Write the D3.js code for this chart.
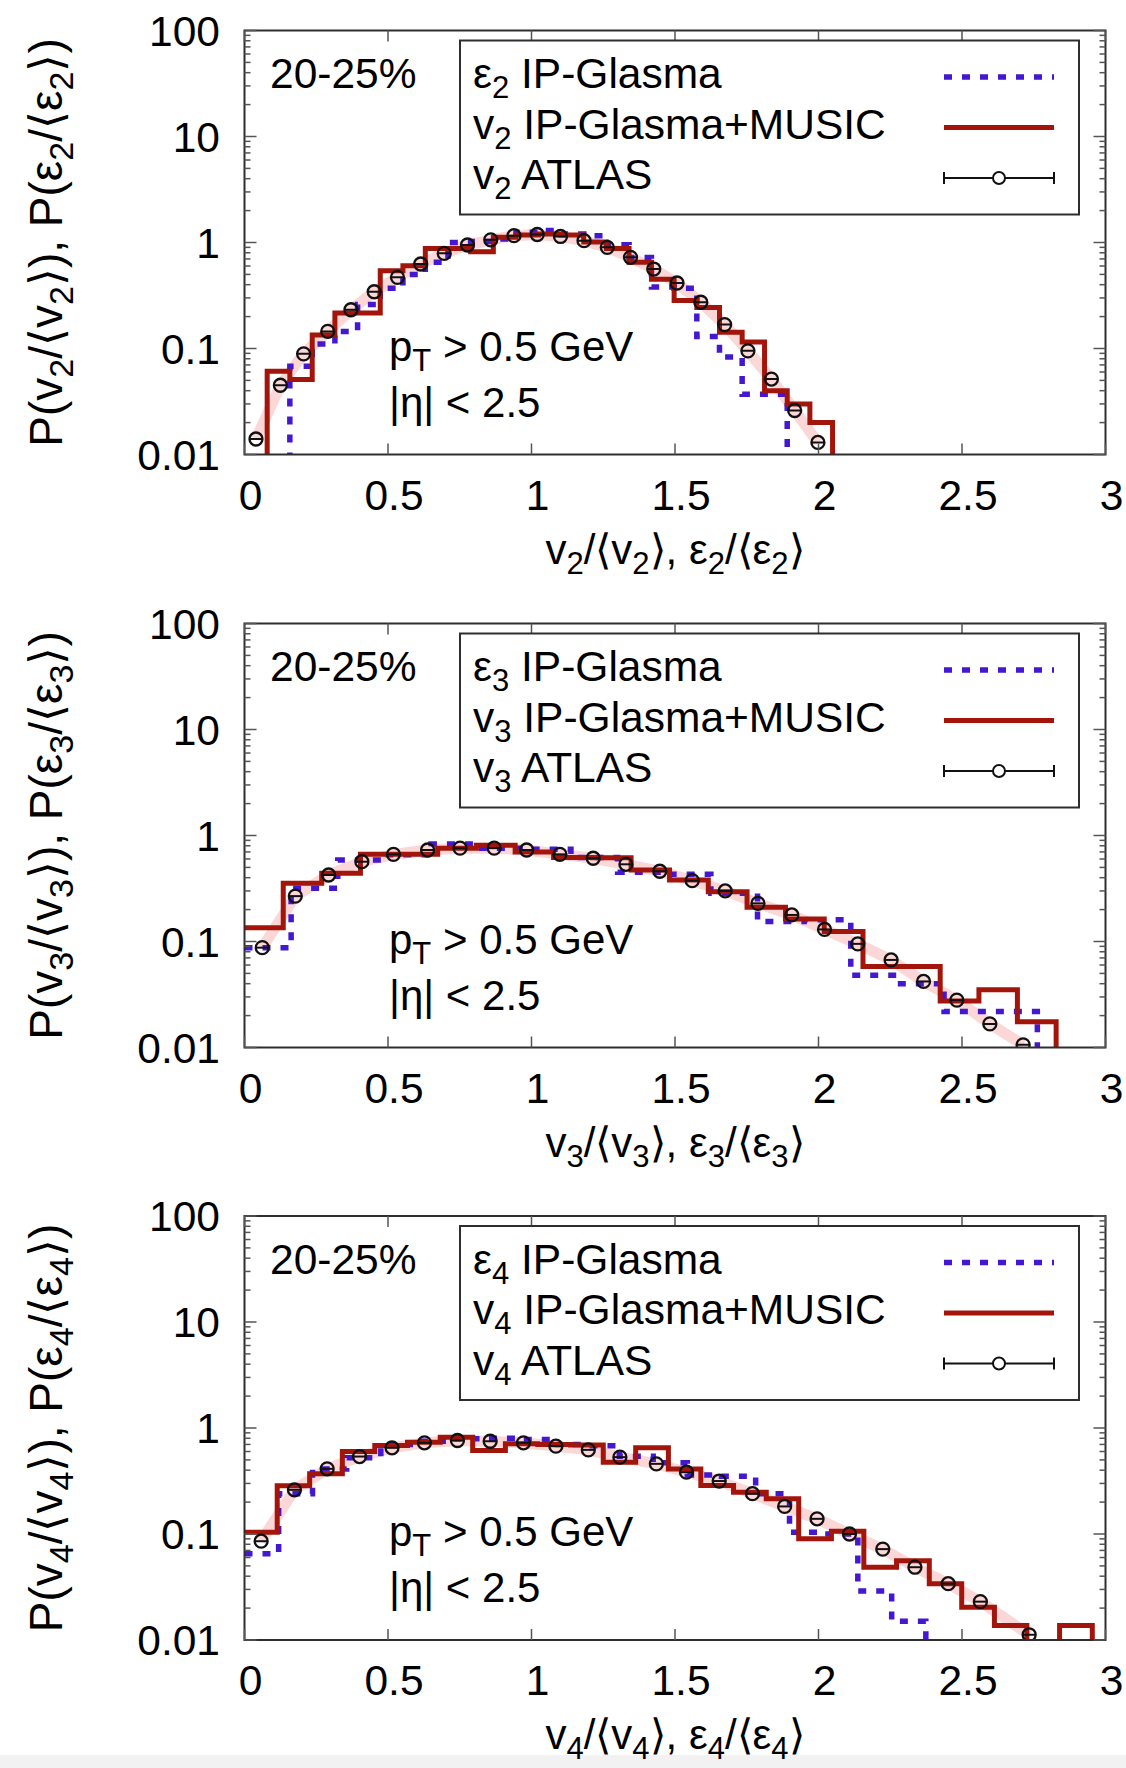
<!DOCTYPE html>
<html>
<head>
<meta charset="utf-8">
<script src="https://cdn.jsdelivr.net/npm/d3@7"></script>
<style>
  html, body { margin: 0; padding: 0; background: #fff; }
  svg { display: block; font-family: "Liberation Sans", Arial, Helvetica, sans-serif; }
</style>
</head>
<body>
<div id="chart"></div>
<script>
const xTicks = [0, 0.5, 1, 1.5, 2, 2.5, 3];
const xTickLabels = ["0", "0.5", "1", "1.5", "2", "2.5", "3"];
const yTicks = [0.01, 0.1, 1, 10, 100];
const yTickLabels = ["0.01", "0.1", "1", "10", "100"];
const harmonics = [2, 3, 4];
const centrality = "20-25%";

// n = 2
const atlasX2 = [0.04, 0.125, 0.206, 0.29, 0.371, 0.452, 0.533, 0.614, 0.696, 0.777, 0.858, 0.939, 1.02, 1.101, 1.183, 1.264, 1.345, 1.426, 1.507, 1.59, 1.673, 1.754, 1.836, 1.917, 1.998];
const atlasY2 = [0.014, 0.045, 0.089, 0.145, 0.232, 0.343, 0.469, 0.627, 0.79, 0.947, 1.06, 1.16, 1.19, 1.14, 1.04, 0.90, 0.725, 0.562, 0.415, 0.273, 0.168, 0.095, 0.0515, 0.026, 0.013];
const musicEdges2 = [0.079, 0.158, 0.236, 0.315, 0.394, 0.473, 0.552, 0.630, 0.709, 0.788, 0.867, 0.946, 1.024, 1.103, 1.182, 1.261, 1.340, 1.418, 1.497, 1.576, 1.655, 1.734, 1.812, 1.891, 1.970, 2.049];
const musicVals2 = [0.061, 0.051, 0.134, 0.216, 0.216, 0.54, 0.605, 0.88, 0.88, 0.82, 1.12, 1.18, 1.20, 1.18, 1.01, 0.88, 0.65, 0.45, 0.283, 0.244, 0.142, 0.115, 0.040, 0.030, 0.020];
const glasmaEdges2 = [0.158, 0.236, 0.315, 0.394, 0.473, 0.552, 0.630, 0.709, 0.788, 0.867, 0.946, 1.024, 1.103, 1.182, 1.261, 1.340, 1.418, 1.497, 1.576, 1.655, 1.734, 1.812, 1.891];
const glasmaVals2 = [0.068, 0.11, 0.145, 0.26, 0.37, 0.50, 0.65, 1.0, 1.02, 1.08, 1.25, 1.3, 1.2, 1.16, 0.95, 0.72, 0.38, 0.37, 0.13, 0.083, 0.037, 0.037];

// n = 3
const atlasX3 = [0.062, 0.177, 0.293, 0.409, 0.519, 0.638, 0.751, 0.87, 0.983, 1.099, 1.215, 1.329, 1.447, 1.56, 1.675, 1.789, 1.907, 2.021, 2.137, 2.253, 2.366, 2.482, 2.597, 2.713];
const atlasY3 = [0.0875, 0.268, 0.424, 0.566, 0.664, 0.73, 0.76, 0.76, 0.73, 0.664, 0.61, 0.535, 0.46, 0.375, 0.30, 0.229, 0.178, 0.130, 0.095, 0.067, 0.042, 0.028, 0.0167, 0.0106];
const musicEdges3 = [0, 0.135, 0.269, 0.404, 0.539, 0.673, 0.808, 0.943, 1.077, 1.212, 1.347, 1.481, 1.616, 1.751, 1.885, 2.020, 2.155, 2.289, 2.424, 2.559, 2.693, 2.828];
const musicVals3 = [0.135, 0.354, 0.44, 0.665, 0.665, 0.76, 0.81, 0.70, 0.62, 0.617, 0.472, 0.38, 0.295, 0.21, 0.163, 0.124, 0.058, 0.058, 0.0275, 0.035, 0.0175];
const glasmaEdges3 = [0, 0.1625, 0.325, 0.4875, 0.65, 0.8125, 0.975, 1.1375, 1.30, 1.4625, 1.625, 1.7875, 1.95, 2.1125, 2.275, 2.4375, 2.60, 2.7625];
const glasmaVals3 = [0.0875, 0.318, 0.587, 0.66, 0.83, 0.76, 0.74, 0.62, 0.45, 0.43, 0.285, 0.154, 0.16, 0.048, 0.040, 0.0218, 0.0218];

// n = 4
const atlasX4 = [0.058, 0.174, 0.288, 0.401, 0.514, 0.627, 0.742, 0.856, 0.972, 1.085, 1.198, 1.308, 1.435, 1.54, 1.654, 1.77, 1.882, 1.995, 2.108, 2.224, 2.336, 2.452, 2.564, 2.734];
const atlasY4 = [0.0855, 0.261, 0.412, 0.538, 0.65, 0.725, 0.762, 0.75, 0.725, 0.674, 0.622, 0.531, 0.459, 0.383, 0.316, 0.24, 0.182, 0.139, 0.1, 0.072, 0.0486, 0.034, 0.023, 0.0112];
const musicEdges4 = [0, 0.114, 0.227, 0.341, 0.454, 0.568, 0.682, 0.795, 0.909, 1.022, 1.136, 1.250, 1.363, 1.477, 1.590, 1.704, 1.818, 1.931, 2.045, 2.158, 2.272, 2.386, 2.499, 2.613, 2.726, 2.840, 2.954];
const musicVals4 = [0.104, 0.286, 0.37, 0.60, 0.684, 0.735, 0.82, 0.614, 0.71, 0.70, 0.69, 0.476, 0.65, 0.41, 0.287, 0.248, 0.215, 0.090, 0.106, 0.0486, 0.056, 0.034, 0.0204, 0.0137, 0, 0.0137];
const glasmaEdges4 = [0, 0.119, 0.237, 0.356, 0.475, 0.594, 0.712, 0.831, 0.950, 1.068, 1.187, 1.306, 1.424, 1.543, 1.662, 1.781, 1.899, 2.018, 2.137, 2.255, 2.374];
const glasmaVals4 = [0.065, 0.24, 0.41, 0.525, 0.70, 0.75, 0.79, 0.80, 0.78, 0.70, 0.68, 0.54, 0.47, 0.36, 0.35, 0.24, 0.104, 0.10, 0.029, 0.015];

const panels = [
  { n: 2, ax: atlasX2, ay: atlasY2, me: musicEdges2, mv: musicVals2, ge: glasmaEdges2, gv: glasmaVals2 },
  { n: 3, ax: atlasX3, ay: atlasY3, me: musicEdges3, mv: musicVals3, ge: glasmaEdges3, gv: glasmaVals3 },
  { n: 4, ax: atlasX4, ay: atlasY4, me: musicEdges4, mv: musicVals4, ge: glasmaEdges4, gv: glasmaVals4 }
];

const width = 1126;
const height = 1768;
const plotLeft = 244.5;
const plotRight = 1105.5;
const plotH = 424;
const panelTops = [30.5, 623.5, 1216];

const redColor = "#a3140a";
const blueColor = "#4318d0";
const frameColor = "#2e2e2e";

const svg = d3.select("#chart")
  .append("svg")
  .attr("width", width)
  .attr("height", height);

svg.append("rect")
  .attr("x", 0).attr("y", 1755)
  .attr("width", width).attr("height", height - 1755)
  .attr("fill", "#f2f2f2");

// text with subscripts: parts = [[string, isSub], ...]
function rich(sel, parts, sub) {
  let down = false;
  parts.forEach(([s, isSub]) => {
    const t = sel.append("tspan").text(s);
    if (isSub && !down) { t.attr("dy", sub.dy).attr("font-size", sub.size); down = true; }
    else if (isSub) { t.attr("font-size", sub.size); }
    else if (down) { t.attr("dy", -sub.dy); down = false; }
  });
}

const x = d3.scaleLinear().domain([0, 3]).range([plotLeft, plotRight]);

panels.forEach((p, i) => {
  const top = panelTops[i];
  const bottom = top + plotH;
  const y = d3.scaleLog().domain([0.01, 100]).range([bottom, top]);
  const n = String(p.n);
  const g = svg.append("g");

  g.append("clipPath").attr("id", "clip" + i)
    .append("rect")
    .attr("x", plotLeft).attr("y", top)
    .attr("width", plotRight - plotLeft).attr("height", plotH);

  const data = g.append("g").attr("clip-path", `url(#clip${i})`);

  // ATLAS systematic band
  const atlas = p.ax.map((v, k) => [v, p.ay[k]]);
  data.append("path")
    .attr("d", d3.line().x(d => x(d[0])).y(d => y(d[1]))(atlas))
    .attr("fill", "none")
    .attr("stroke", "#fbc2c2")
    .attr("stroke-opacity", 0.65)
    .attr("stroke-width", 11);

  const floorY = bottom + 6;
  function steps(edges, vals) {
    const yy = v => v > 0 ? y(v) : floorY;
    const pts = edges[0] > 0 ? [[x(edges[0]), floorY]] : [];
    vals.forEach((v, k) => {
      pts.push([x(edges[k]), yy(v)]);
      pts.push([x(edges[k + 1]), yy(v)]);
    });
    pts.push([x(edges[edges.length - 1]), floorY]);
    return d3.line()(pts);
  }

  data.append("path")
    .attr("d", steps(p.ge, p.gv))
    .attr("fill", "none")
    .attr("stroke", blueColor)
    .attr("stroke-width", 5.5)
    .attr("stroke-dasharray", "8,10");

  data.append("path")
    .attr("d", steps(p.me, p.mv))
    .attr("fill", "none")
    .attr("stroke", redColor)
    .attr("stroke-width", 5)
    .attr("stroke-linejoin", "miter");

  const pts = data.selectAll(".pt")
    .data(atlas)
    .enter()
    .append("g")
    .attr("transform", d => `translate(${x(d[0])},${y(d[1])})`);
  pts.append("line")
    .attr("x1", -6.5).attr("x2", 6.5)
    .attr("stroke", "#111").attr("stroke-width", 2);
  pts.append("circle")
    .attr("r", 6.5)
    .attr("fill", "none")
    .attr("stroke", "#111")
    .attr("stroke-width", 2.3);

  // frame and ticks
  g.append("rect")
    .attr("x", plotLeft).attr("y", top)
    .attr("width", plotRight - plotLeft).attr("height", plotH)
    .attr("fill", "none")
    .attr("stroke", frameColor)
    .attr("stroke-width", 2);

  const ticks = g.append("g").attr("stroke", "#555").attr("stroke-width", 1.5);
  xTicks.forEach(t => {
    ticks.append("line").attr("x1", x(t)).attr("x2", x(t)).attr("y1", bottom).attr("y2", bottom - 11);
    ticks.append("line").attr("x1", x(t)).attr("x2", x(t)).attr("y1", top).attr("y2", top + 11);
  });
  yTicks.forEach((t, k) => {
    ticks.append("line").attr("x1", plotLeft).attr("x2", plotLeft + 12).attr("y1", y(t)).attr("y2", y(t));
    ticks.append("line").attr("x1", plotRight).attr("x2", plotRight - 12).attr("y1", y(t)).attr("y2", y(t));
    if (k < yTicks.length - 1) {
      d3.range(2, 10).forEach(m => {
        const yy = y(t * m);
        ticks.append("line").attr("x1", plotLeft).attr("x2", plotLeft + 6).attr("y1", yy).attr("y2", yy);
        ticks.append("line").attr("x1", plotRight).attr("x2", plotRight - 6).attr("y1", yy).attr("y2", yy);
      });
    }
  });

  g.selectAll(".ylab")
    .data(yTicks)
    .enter()
    .append("text")
    .attr("x", 220)
    .attr("y", d => y(d) + 15)
    .attr("text-anchor", "end")
    .attr("font-size", 42.5)
    .text((d, k) => yTickLabels[k]);

  g.selectAll(".xlab")
    .data(xTicks)
    .enter()
    .append("text")
    .attr("x", d => x(d) + 6)
    .attr("y", bottom + 55)
    .attr("text-anchor", "middle")
    .attr("font-size", 42.5)
    .text((d, k) => xTickLabels[k]);

  const sub = { dy: 10, size: 31 };

  const xt = g.append("text")
    .attr("x", (plotLeft + plotRight) / 2)
    .attr("y", bottom + 109)
    .attr("text-anchor", "middle")
    .attr("font-size", 42);
  rich(xt, [["v", 0], [n, 1], ["/\u27e8v", 0], [n, 1], ["\u27e9, \u03b5", 0], [n, 1], ["/\u27e8\u03b5", 0], [n, 1], ["\u27e9", 0]], sub);

  const yt = g.append("text")
    .attr("transform", `translate(62,${(top + bottom) / 2}) rotate(-90)`)
    .attr("text-anchor", "middle")
    .attr("font-size", 46);
  rich(yt, [["P(v", 0], [n, 1], ["/\u27e8v", 0], [n, 1], ["\u27e9),  P(\u03b5", 0], [n, 1], ["/\u27e8\u03b5", 0], [n, 1], ["\u27e9)", 0]], { dy: 11, size: 34 });

  g.append("text")
    .attr("x", 270).attr("y", top + 57.5)
    .attr("font-size", 42.5)
    .text(centrality);

  const pt = g.append("text").attr("x", 389).attr("y", top + 330).attr("font-size", 42);
  rich(pt, [["p", 0], ["T", 1], [" > 0.5 GeV", 0]], sub);
  g.append("text").attr("x", 389).attr("y", top + 386).attr("font-size", 42).text("|\u03b7| < 2.5");

  // legend
  g.append("rect")
    .attr("x", 460).attr("y", top + 10)
    .attr("width", 619).attr("height", 174)
    .attr("fill", "#fff")
    .attr("stroke", frameColor)
    .attr("stroke-width", 2);

  const rows = [
    [["\u03b5", 0], [n, 1], [" IP-Glasma", 0]],
    [["v", 0], [n, 1], [" IP-Glasma+MUSIC", 0]],
    [["v", 0], [n, 1], [" ATLAS", 0]]
  ];
  rows.forEach((parts, k) => {
    const base = top + 57.5 + k * 50.5;
    const t = g.append("text").attr("x", 473).attr("y", base).attr("font-size", 42.5);
    rich(t, parts, sub);
    const ly = base - 11;
    if (k === 0) {
      g.append("line").attr("x1", 944).attr("x2", 1054).attr("y1", ly).attr("y2", ly)
        .attr("stroke", blueColor).attr("stroke-width", 5.5).attr("stroke-dasharray", "8,10");
    } else if (k === 1) {
      g.append("line").attr("x1", 944).attr("x2", 1054).attr("y1", ly).attr("y2", ly)
        .attr("stroke", redColor).attr("stroke-width", 5);
    } else {
      const lg = g.append("g").attr("stroke", "#111").attr("stroke-width", 2);
      lg.append("line").attr("x1", 944).attr("x2", 1054).attr("y1", ly).attr("y2", ly);
      lg.append("line").attr("x1", 944).attr("x2", 944).attr("y1", ly - 6).attr("y2", ly + 6);
      lg.append("line").attr("x1", 1054).attr("x2", 1054).attr("y1", ly - 6).attr("y2", ly + 6);
      lg.append("circle").attr("cx", 999).attr("cy", ly).attr("r", 6).attr("fill", "#fff");
    }
  });
});
</script>
</body>
</html>
